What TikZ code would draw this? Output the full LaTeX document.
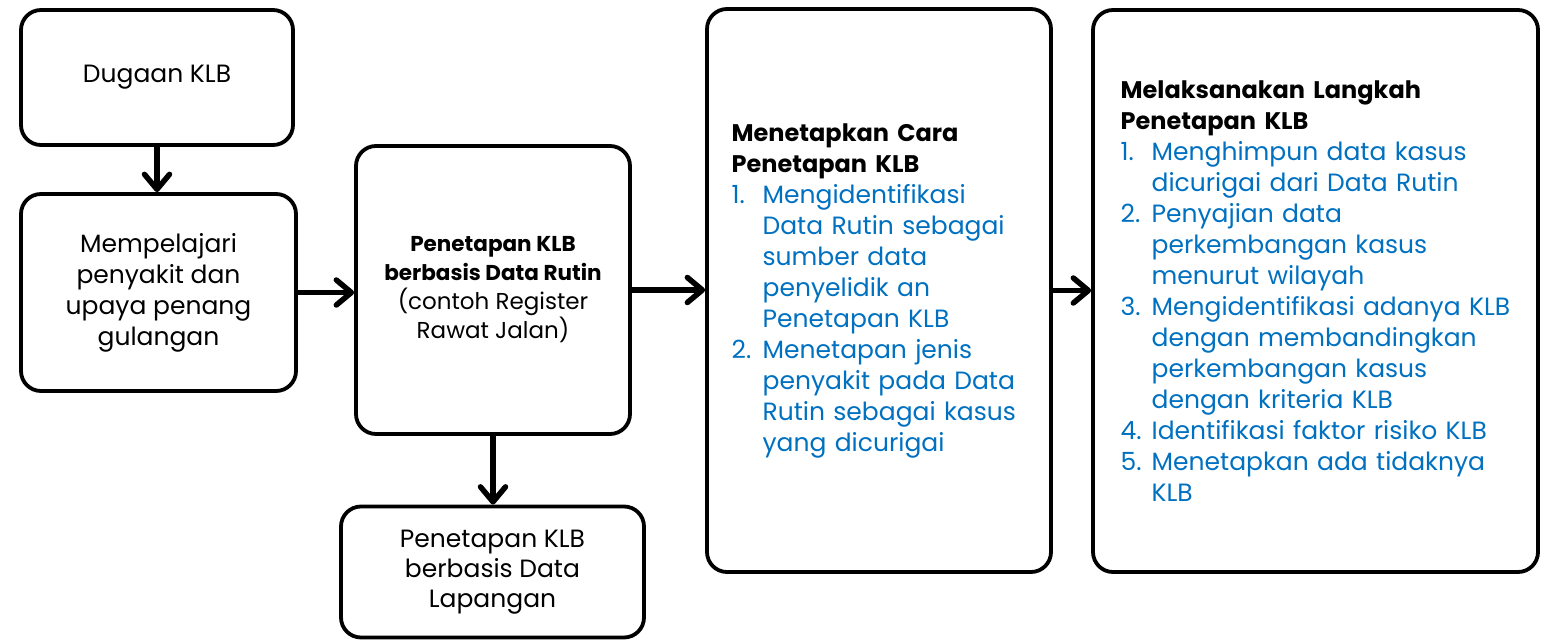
\documentclass[tikz,border=0pt]{standalone}
\usepackage{fontspec}
\setmainfont{Poppins}
\usepackage{xcolor}
\definecolor{klbblue}{RGB}{0, 112, 192}
\usetikzlibrary{arrows.meta, positioning}
\newcommand{\nr}[1]{\makebox[31pt][l]{#1}}
\newcommand{\ind}{\hspace*{31pt}}

\begin{document}
\begin{tikzpicture}[x=1pt, y=-1pt,
	box/.style={draw, line width=3.8pt, rounded corners=20pt, align=center},
	arr/.style={-{Straight Barb[length=15pt, width=25pt, round]}, line width=5.5pt},
	font=\fontsize{25}{31}\selectfont]
	\useasboundingbox (0,0) rectangle (1542,642);
	
	% left column
	\node [box, minimum width=272pt, minimum height=135pt] (dugaan) at (157,77.5) {Dugaan KLB};
	\node [box, minimum width=275pt, minimum height=197pt] (pelajari) at (158.5,292.5)
	{Mempelajari\\ penyakit dan\\ upaya penang\\ gulangan};
	
	% middle column
	\node [box, minimum width=274pt, minimum height=288pt, font=\fontsize{23}{29}\selectfont] (rutin) at (493,290)
	{{\fontsize{21.5}{29}\selectfont\bfseries Penetapan KLB}\\ {\fontsize{21.5}{29}\selectfont\bfseries berbasis Data Rutin}\\
		(contoh Register\\ Rawat Jalan)};
	\node [box, minimum width=303pt, minimum height=131pt, font=\fontsize{25}{30}\selectfont] (lapangan) at (492.5,572)
	{Penetapan KLB\\ berbasis Data\\ Lapangan};
	
	% right boxes
	\node [box, minimum width=344pt, minimum height=563pt] (cara) at (879,290.5) {};
	\node [anchor=west, text width=420pt, align=left] (caratxt) at ([xshift=23pt]cara.west)
	{{\fontsize{24}{31}\selectfont\bfseries Menetapkan Cara\\ Penetapan KLB}\\ \color{klbblue}
		\nr{1.}Mengidentifikasi\\ \ind Data Rutin sebagai\\ \ind sumber data\\
		\ind penyelidik an\\ \ind Penetapan KLB\\
		\nr{2.}Menetapan jenis\\ \ind penyakit pada Data\\ \ind Rutin sebagai kasus\\
		\ind yang dicurigai};
	
	\node [box, minimum width=445pt, minimum height=562pt] (langkah) at (1315.5,291) {};
	\node [anchor=west, text width=420pt, align=left] (langkahtxt) at ([xshift=26pt]langkah.west)
	{{\fontsize{24}{31}\selectfont\bfseries Melaksanakan Langkah\\ Penetapan KLB}\\ \color{klbblue}
		\nr{1.}Menghimpun data kasus\\ \ind dicurigai dari Data Rutin\\
		\nr{2.}Penyajian data\\ \ind perkembangan kasus\\ \ind menurut wilayah\\
		\nr{3.}Mengidentifikasi adanya KLB\\ \ind dengan membandingkan\\
		\ind perkembangan kasus\\ \ind dengan kriteria KLB\\
		\nr{4.}Identifikasi faktor risiko KLB\\
		\nr{5.}Menetapkan ada tidaknya\\ \ind KLB};
	
	% arrows
	\draw [arr] (dugaan.south) -- (dugaan.south |- pelajari.north);
	\draw [arr] (pelajari.east) -- (pelajari.east -| rutin.west);
	\draw [arr] (rutin.south) -- (rutin.south |- lapangan.north);
	\draw [arr] (rutin.east) -- (rutin.east -| cara.west);
	\draw [arr] (cara.east) -- (cara.east -| langkah.west);
\end{tikzpicture}
\end{document}
